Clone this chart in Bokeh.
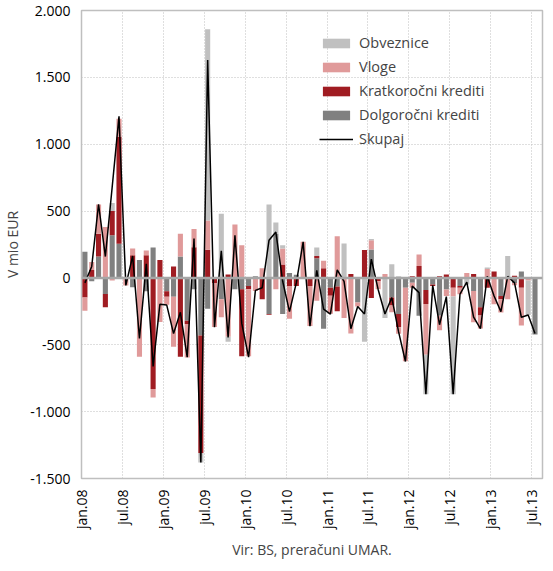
from bokeh.plotting import figure
from bokeh.models import ColumnDataSource, Legend, LegendItem, Title, FixedTicker, Span
from bokeh.embed import file_html
from bokeh.resources import INLINE

# monthly flows, jan.08 .. jul.13 (mio EUR)
obveznice = [0, 0, 0, 0, 60, 0, 0, 0, 0, 0, 0, 0, 0, 0, 0, 0, 0, -70, 1430, 0,
             480, -37, 0, 0, 0, 0, 0, 550, 85, 25, 0, 0, 0, 0, 64, 0, 0, 0, 257, 0,
             0, -478, 10, 0, -300, 103, 12, 0, 0, 0, -294, 0, 0, 0, -730, 0, -49, 0, 0, 12,
             0, 0, 164, 0, 0, -257, 0]
vloge = [-98, 60, 220, 380, -20, 135, -56, 50, -590, 35, -65, -330, -60, -375, 170, -250, 135, 0, 220, -330,
         -135, -440, 400, 245, -500, -98, 73, 0, -85, 120, -245, 0, 270, -300, -170, 56, -135, 311, -300, -415,
         -30, 0, 68, -60, 30, -50, -50, -550, -37, 86, -380, 0, -110, -49, -66, -49, 37, -233, -98, 66,
         -196, -98, -160, -17, -282, -20, 0]
kratkorocni = [-147, 60, 170, -100, 180, 800, 0, 170, 0, 170, -830, 135, -40, 85, -590, -25, 230, -880, 210, -37,
               0, 25, 0, -500, -25, 0, -160, -5, 0, 100, -60, -60, 0, -60, 17, 73, -60, -185, 0, 30,
               0, 208, -150, -25, 0, -60, -98, 0, 12, 90, -105, -12, 12, 25, -73, -12, 0, 30, -61, -73,
               49, -25, 0, 17, -73, 0, 0]
dolgorocni = [196, -25, 160, -120, 320, 255, 0, -70, 135, -100, 228, 0, -100, -140, 160, -320, -85, -430, -230, 0,
              -160, 0, -85, -85, -60, 12, 0, -270, 330, -270, 37, 23, 0, 0, 147, -380, -73, -65, 0, 0,
              -184, 0, 213, 0, 0, -147, -270, -73, -36, -282, -90, -49, -282, -86, 0, -61, 0, -98, -220, 0,
              0, -135, 0, -37, 49, 0, -424]
skupaj = [-37, 86, 551, 160, 680, 1208, -56, 164, -453, 105, -662, -196, -203, -416, -257, -593, 294, -1380, 1630, -368,
          203, -446, 318, -340, -593, -93, -73, 282, 343, -25, -252, -37, 270, -360, 56, -233, -270, 61, -25, -380,
          -213, -270, 140, -86, -270, -147, -404, -625, -61, -110, -870, -56, -350, -140, -870, -122, -32, -294, -380, 12,
          -135, -252, 12, -37, -294, -277, -416]
tick_labels = ["jan.08", "jul.08", "jan.09", "jul.09", "jan.10", "jul.10",
               "jan.11", "jul.11", "jan.12", "jul.12", "jan.13", "jul.13"]

series = [("Dolgoročni krediti", dolgorocni, "#808080"),
          ("Kratkoročni krediti", kratkorocni, "#a01c22"),
          ("Vloge", vloge, "#e09a9a"),
          ("Obveznice", obveznice, "#c0c0c0")]

n = len(skupaj)
xs = [i + 0.5 for i in range(n)]

p = figure(width=545, height=563, x_range=(0, n + 0.6), y_range=(-1500, 2000),
           output_backend="svg", toolbar_location=None, tools="",
           min_border_left=74, min_border_right=3, min_border_top=10, min_border_bottom=0)

pos = [0.0] * n
neg = [0.0] * n
renderers = {}
for name, vals, color in series:
    bottoms, tops = [], []
    for i, v in enumerate(vals):
        if v >= 0:
            bottoms.append(pos[i]); pos[i] += v
        else:
            bottoms.append(neg[i]); neg[i] += v
        tops.append(bottoms[-1] + v)
    src = ColumnDataSource(dict(x=xs, bottom=bottoms, top=tops))
    renderers[name] = p.vbar(x="x", bottom="bottom", top="top", width=0.75, source=src,
                             fill_color=color, line_color=None)

p.add_layout(Span(location=0, dimension="width", line_color="#a6a6a6", line_width=2.5))
line = p.line(xs, skupaj, line_color="black", line_width=1.5)

font = "Open Sans"
p.xaxis.ticker = FixedTicker(ticks=[6 * k for k in range(len(tick_labels))])
p.xaxis.major_label_overrides = {6 * k: t for k, t in enumerate(tick_labels)}
p.xaxis.major_label_orientation = 1.5708
p.yaxis.ticker = FixedTicker(ticks=list(range(-1500, 2001, 500)))
p.yaxis.major_label_overrides = {v: f"{v:,}".replace(",", ".") for v in range(-1500, 2001, 500)}
for ax in (p.xaxis, p.yaxis):
    ax.major_label_text_font = font
    ax.major_label_text_font_size = "14px"
    ax.major_label_text_color = "black"
    ax.axis_line_color = None
    ax.major_tick_line_color = None
    ax.minor_tick_line_color = None
p.yaxis.axis_label = "V mio EUR"
p.yaxis.axis_label_text_font = font
p.yaxis.axis_label_text_font_style = "normal"
p.yaxis.axis_label_text_font_size = "14px"

p.grid.grid_line_color = "#bfbfbf"
p.grid.grid_line_dash = "1 2"
p.outline_line_color = "#bfbfbf"
p.outline_line_width = 1.5

legend = Legend(items=[LegendItem(label="Obveznice", renderers=[renderers["Obveznice"]]),
                       LegendItem(label="Vloge", renderers=[renderers["Vloge"]]),
                       LegendItem(label="Kratkoročni krediti", renderers=[renderers["Kratkoročni krediti"]]),
                       LegendItem(label="Dolgoročni krediti", renderers=[renderers["Dolgoročni krediti"]]),
                       LegendItem(label="Skupaj", renderers=[line])],
                location=(238, 330), background_fill_alpha=0, border_line_color=None,
                label_text_font=font, label_text_font_size="14.5px", glyph_width=34, glyph_height=12,
                spacing=5, label_standoff=6)
p.add_layout(legend)

p.add_layout(Title(text="Vir: BS, preračuni UMAR.", align="center", text_font=font,
                   text_font_size="14px", text_font_style="normal"), "below")

open("out.html", "w").write(file_html(p, INLINE))
